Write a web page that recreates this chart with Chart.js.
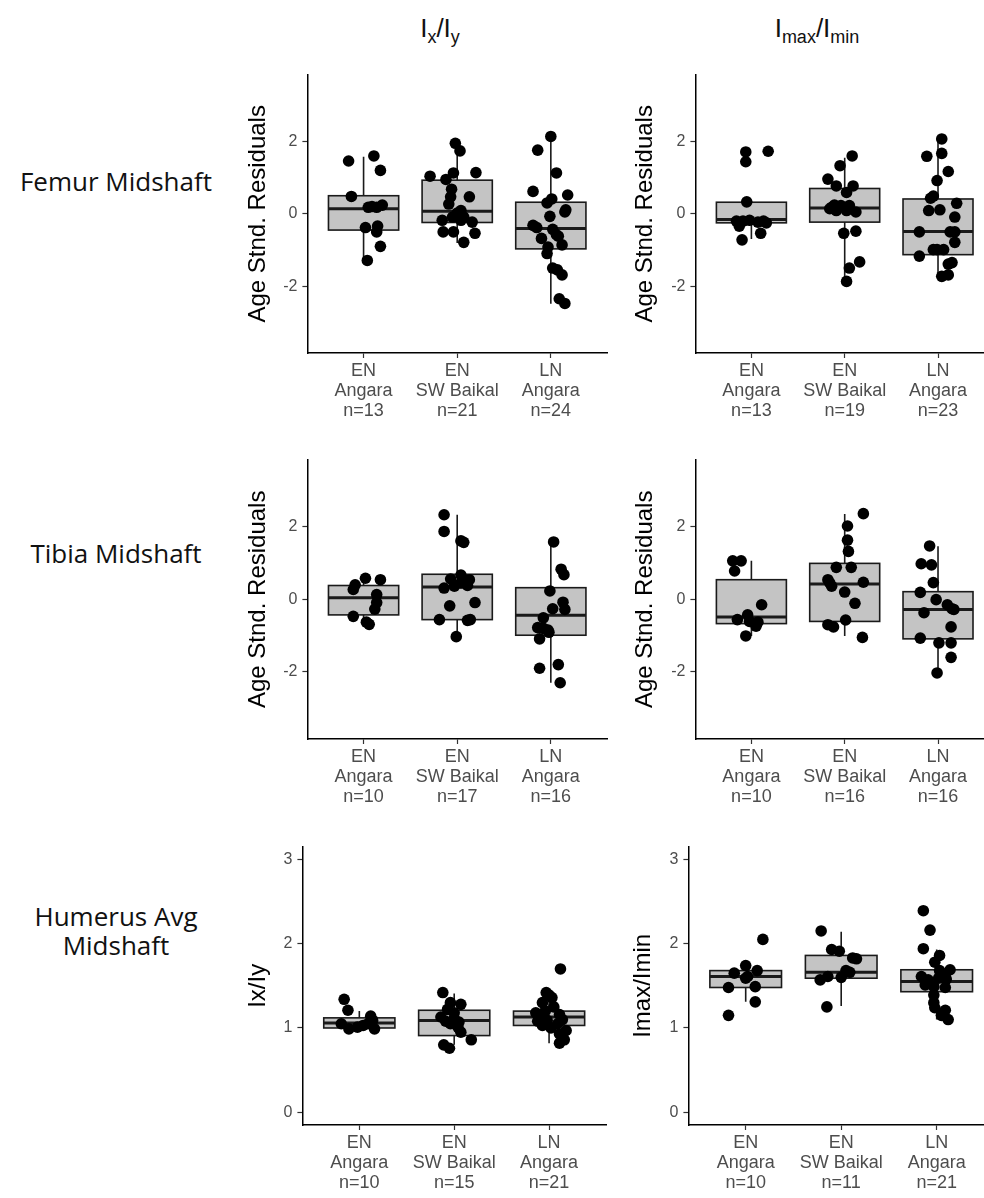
<!DOCTYPE html>
<html>
<head>
<meta charset="utf-8">
<script src="https://cdn.jsdelivr.net/npm/chart.js@4.4.0/dist/chart.umd.min.js"></script>
<style>
  body { margin: 0; background: #fff; width: 984px; height: 1198px; overflow: hidden; position: relative; font-family: "Liberation Sans", Arial, sans-serif; }
  canvas { position: absolute; }
  .rowlab { position: absolute; left: 0; width: 232px; text-align: center; font-family: "Open Sans", sans-serif; font-size: 26px; line-height: 29px; color: #111; }
  .coltitle { position: absolute; width: 240px; text-align: center; font-size: 26px; color: #111; }
  .coltitle sub { font-size: 18px; vertical-align: -6px; }
</style>
</head>
<body>
<div class="coltitle" style="left:320px; top:13px">I<sub>x</sub>/I<sub>y</sub></div>
<div class="coltitle" style="left:697px; top:13px">I<sub>max</sub>/I<sub>min</sub></div>
<div class="rowlab" style="top:167px">Femur Midshaft</div>
<div class="rowlab" style="top:539px">Tibia Midshaft</div>
<div class="rowlab" style="top:902px">Humerus Avg<br>Midshaft</div>

<canvas id="femur-ix"></canvas>
<canvas id="femur-imax"></canvas>
<canvas id="tibia-ix"></canvas>
<canvas id="tibia-imax"></canvas>
<canvas id="humerus-ix"></canvas>
<canvas id="humerus-imax"></canvas>

<script>
// groups on the x axis
const groupLabels = [['EN', 'Angara'], ['EN', 'SW Baikal'], ['LN', 'Angara']];
const residualTicks = [-2, 0, 2];
const ratioTicks = [0, 1, 2, 3];

// box stats per group: [lower whisker, Q1, median, Q3, upper whisker]
// Femur midshaft, Ix/Iy
const femurIxN = [13, 21, 24];
const femurIxBox = [[-1.31, -0.45, 0.14, 0.50, 1.58], [-0.81, -0.24, 0.07, 0.93, 1.71], [-2.49, -0.97, -0.41, 0.32, 2.16]];
const femurIxY = [
  [1.46, 1.60, 1.20, 0.48, 0.20, 0.24, 0.18, -0.38, -0.50, -0.34, -0.90, -1.29, 0.18],
  [1.95, 1.74, 1.04, 0.95, 1.13, 1.14, 0.68, 0.47, 0.47, 0.09, 0.02, -0.18, -0.09, -0.09, -0.23, -0.50, -0.50, -0.54, -0.79, -0.18, 0.27],
  [2.14, 1.76, 1.13, 0.62, 0.52, 0.41, 0.30, 0.11, 0.05, -0.07, -0.32, -0.38, -0.43, -0.58, -0.62, -0.68, -0.86, -0.92, -1.10, -1.50, -1.69, -2.35, -2.48, -1.55]
];
const femurIxJitter = [
  [-0.16, 0.11, 0.18, -0.13, 0.09, 0.20, 0.14, 0.02, 0.14, 0.15, 0.18, 0.04, 0.05],
  [-0.02, 0.03, -0.29, -0.12, -0.04, 0.20, -0.06, -0.07, 0.13, 0.04, 0.00, -0.16, -0.05, 0.07, 0.16, -0.15, -0.04, 0.19, 0.07, 0.04, -0.09],
  [0.00, -0.14, 0.06, -0.19, 0.18, 0.01, -0.04, 0.16, 0.15, -0.01, -0.19, -0.15, 0.02, 0.06, 0.08, -0.10, 0.12, -0.03, -0.04, 0.02, 0.12, 0.09, 0.15, 0.07]
];

// Femur midshaft, Imax/Imin
const femurImaxN = [13, 19, 23];
const femurImaxBox = [[-0.70, -0.25, -0.16, 0.32, 0.35], [-1.87, -0.23, 0.16, 0.70, 1.55], [-1.72, -1.13, -0.49, 0.41, 2.07]];
const femurImaxY = [
  [1.71, 1.44, 1.73, 0.33, -0.20, -0.20, -0.18, -0.34, -0.23, -0.25, -0.54, -0.72, -0.20],
  [1.60, 1.33, 0.96, 0.77, 0.77, 0.59, 0.14, 0.24, 0.23, 0.23, 0.05, 0.09, -0.54, -0.48, -1.50, -1.33, -1.87, 0.09, 0.18],
  [2.07, 1.59, 1.67, 1.17, 0.92, 0.43, 0.49, 0.09, 0.11, 0.29, -0.09, -0.50, -0.50, -0.50, -0.79, -1.17, -0.99, -0.99, -1.35, -1.39, -1.73, -1.69, -0.99]
];
const femurImaxJitter = [
  [-0.06, -0.06, 0.18, -0.05, -0.16, -0.09, -0.02, -0.13, 0.07, 0.16, 0.10, -0.10, 0.13],
  [0.08, -0.05, -0.18, -0.09, 0.09, 0.02, -0.16, -0.11, -0.04, 0.05, 0.12, 0.02, -0.01, 0.12, 0.05, 0.16, 0.02, -0.09, -0.14],
  [0.04, -0.12, 0.04, 0.11, -0.01, -0.08, -0.05, -0.10, 0.02, 0.20, 0.18, -0.20, 0.13, 0.18, 0.18, -0.20, -0.01, 0.06, 0.15, 0.11, 0.04, 0.11, -0.05]
];

// Tibia midshaft, Ix/Iy
const tibiaIxN = [10, 17, 16];
const tibiaIxBox = [[-0.69, -0.43, 0.04, 0.38, 0.58], [-1.03, -0.56, 0.34, 0.69, 2.33], [-2.30, -0.99, -0.44, 0.32, 1.62]];
const tibiaIxY = [
  [0.58, 0.54, 0.40, 0.27, 0.13, -0.09, -0.27, -0.47, -0.63, -0.69],
  [2.33, 1.87, 1.61, 1.57, 0.67, 0.56, 0.54, 0.31, 0.36, 0.38, -0.18, -0.09, -0.56, -0.58, -0.56, -1.03, 0.45],
  [1.58, 0.83, 0.68, 0.23, -0.26, -0.08, -0.28, -0.51, -0.78, -0.80, -0.91, -1.09, -1.90, -1.80, -2.30, -0.85]
];
const tibiaIxJitter = [
  [0.02, 0.18, -0.09, -0.11, 0.14, 0.14, 0.12, -0.11, 0.03, 0.06],
  [-0.14, -0.14, 0.04, 0.07, 0.04, -0.07, 0.13, -0.14, -0.03, 0.11, -0.08, 0.19, -0.19, 0.11, 0.14, -0.01, 0.04],
  [0.03, 0.11, 0.14, -0.01, 0.02, 0.13, 0.15, -0.08, -0.14, -0.08, -0.02, -0.12, -0.12, 0.08, 0.10, -0.03]
];

// Tibia midshaft, Imax/Imin
const tibiaImaxN = [10, 16, 16];
const tibiaImaxBox = [[-1.01, -0.67, -0.49, 0.54, 1.06], [-1.01, -0.61, 0.42, 0.99, 2.35], [-2.05, -1.09, -0.28, 0.21, 1.46]];
const tibiaImaxY = [
  [1.06, 1.06, 0.78, -0.15, -0.56, -0.43, -0.61, -0.63, -0.74, -1.01],
  [2.36, 2.02, 1.63, 1.32, 0.88, 0.88, 0.54, 0.36, 0.47, 0.20, -0.11, -0.70, -0.76, -0.57, -1.05, 0.45],
  [1.47, 0.98, 0.95, 0.46, 0.19, -0.01, -0.15, -0.28, -0.37, -0.76, -1.07, -1.20, -1.20, -1.60, -2.03, -0.26]
];
const tibiaImaxJitter = [
  [-0.20, -0.11, -0.18, 0.11, -0.15, -0.04, -0.02, 0.07, 0.05, -0.06],
  [0.20, 0.03, 0.03, 0.04, -0.09, 0.07, -0.18, -0.14, 0.20, 0.00, 0.11, -0.18, -0.12, 0.01, 0.19, -0.16],
  [-0.09, -0.18, -0.07, -0.05, -0.19, -0.02, 0.10, 0.17, -0.15, 0.14, -0.19, 0.01, 0.14, 0.14, -0.01, 0.15]
];

// Humerus avg midshaft, Ix/Iy
const humerusIxN = [10, 15, 21];
const humerusIxBox = [[0.99, 1.00, 1.06, 1.12, 1.20], [0.80, 0.91, 1.09, 1.21, 1.41], [0.82, 1.03, 1.13, 1.20, 1.45]];
const humerusIxY = [
  [1.34, 1.21, 1.05, 0.99, 1.01, 1.03, 1.14, 1.09, 0.99, 1.05],
  [1.42, 1.30, 1.28, 1.18, 1.13, 1.08, 1.05, 1.01, 0.95, 0.80, 0.76, 0.86, 1.11, 1.22, 1.07],
  [1.39, 1.36, 1.30, 1.18, 1.20, 1.13, 1.09, 1.16, 1.05, 1.03, 0.97, 0.93, 0.86, 0.82, 1.70, 1.42, 1.25, 1.15, 1.10, 1.08, 1.00]
];
const humerusIxJitter = [
  [-0.16, -0.12, -0.19, -0.11, -0.02, 0.04, 0.12, 0.14, 0.16, 0.09],
  [-0.12, -0.04, 0.07, 0.00, -0.14, -0.09, -0.04, 0.04, 0.07, -0.11, -0.05, 0.18, 0.00, -0.07, 0.05],
  [0.00, 0.03, -0.07, -0.14, -0.04, -0.11, -0.02, 0.11, 0.09, -0.07, 0.18, 0.11, 0.16, 0.11, 0.12, -0.03, 0.05, -0.09, 0.14, -0.12, 0.02]
];

// Humerus avg midshaft, Imax/Imin
const humerusImaxN = [10, 11, 21];
const humerusImaxBox = [[1.31, 1.48, 1.61, 1.68, 1.74], [1.26, 1.59, 1.66, 1.86, 2.14], [1.10, 1.43, 1.55, 1.69, 1.93]];
const humerusImaxY = [
  [2.05, 1.74, 1.65, 1.68, 1.59, 1.49, 1.48, 1.31, 1.15, 1.61],
  [2.15, 1.93, 1.91, 1.83, 1.82, 1.66, 1.60, 1.57, 1.61, 1.25, 1.68],
  [2.39, 2.16, 1.94, 1.86, 1.78, 1.69, 1.64, 1.61, 1.57, 1.59, 1.58, 1.51, 1.49, 1.48, 1.39, 1.30, 1.24, 1.21, 1.15, 1.10, 1.68]
];
const humerusImaxJitter = [
  [0.18, 0.00, -0.12, 0.12, 0.00, 0.10, -0.18, 0.10, -0.18, 0.02],
  [-0.21, -0.10, -0.02, 0.12, 0.16, 0.09, 0.00, -0.22, -0.14, -0.15, 0.05],
  [-0.14, -0.07, -0.14, 0.03, -0.02, 0.14, 0.09, -0.16, -0.09, 0.02, 0.10, -0.12, -0.03, 0.09, -0.03, -0.03, -0.02, 0.09, 0.05, 0.12, 0.03]
];

// draws the boxes and whiskers under the points
function boxPlugin(stats) {
  return {
    id: 'boxes',
    beforeDatasetsDraw(chart) {
      const { ctx, scales: { x, y } } = chart;
      ctx.save();
      stats.forEach((s, i) => {
        const xc = x.getPixelForValue(i);
        const x0 = x.getPixelForValue(i - 0.375);
        const x1 = x.getPixelForValue(i + 0.375);
        const [lo, q1, med, q3, hi] = s.map(v => y.getPixelForValue(v));
        ctx.strokeStyle = '#1a1a1a';
        ctx.lineWidth = 1.6;
        ctx.beginPath();
        ctx.moveTo(xc, lo); ctx.lineTo(xc, q1);
        ctx.moveTo(xc, q3); ctx.lineTo(xc, hi);
        ctx.stroke();
        ctx.fillStyle = '#c4c4c4';
        ctx.fillRect(x0, q3, x1 - x0, q1 - q3);
        ctx.strokeRect(x0, q3, x1 - x0, q1 - q3);
        ctx.lineWidth = 3;
        ctx.beginPath();
        ctx.moveTo(x0, med); ctx.lineTo(x1, med);
        ctx.stroke();
      });
      ctx.restore();
    }
  };
}

function makePanel(id, p) {
  const titleSize = 24;
  const yAxisW = p.titleGap + 4 + titleSize * 1.2 / 2;
  const padTop = 8, xAxisH = 75;
  const el = document.getElementById(id);
  el.width = yAxisW + p.width + 8;
  el.height = padTop + p.height + xAxisH;
  el.style.left = (p.left - yAxisW) + 'px';
  el.style.top = (p.top - padTop) + 'px';

  const points = [];
  p.ys.forEach((g, gi) => g.forEach((v, k) => points.push({ x: gi + p.jitter[gi][k], y: v })));

  new Chart(el.getContext('2d'), {
    type: 'scatter',
    data: {
      datasets: [{
        data: points,
        pointRadius: 5.8,
        pointHoverRadius: 5.8,
        backgroundColor: '#000',
        borderColor: '#000',
        borderWidth: 0
      }]
    },
    options: {
      responsive: false,
      animation: false,
      layout: { padding: { top: padTop, right: 8, left: 0, bottom: 0 } },
      plugins: { legend: { display: false }, tooltip: { enabled: false } },
      scales: {
        x: {
          type: 'linear',
          min: -0.6,
          max: 2.6,
          afterBuildTicks: s => { s.ticks = [0, 1, 2].map(v => ({ value: v })); },
          afterFit: s => { s.height = xAxisH; },
          ticks: {
            callback: v => [groupLabels[v][0], groupLabels[v][1], 'n=' + p.n[v]],
            color: '#4d4d4d',
            font: { family: '"Liberation Sans", Arial, sans-serif', size: 18, lineHeight: 1.12 },
            padding: 3,
            maxRotation: 0,
            autoSkip: false
          },
          grid: { drawOnChartArea: false, drawTicks: true, tickLength: 5, tickColor: '#333', tickWidth: 1.2 },
          border: { color: '#000', width: 1.5 }
        },
        y: {
          min: p.yMin,
          max: p.yMax,
          afterBuildTicks: s => { s.ticks = p.yTicks.map(v => ({ value: v })); },
          afterFit: s => { s.width = yAxisW; },
          ticks: {
            color: '#4d4d4d',
            font: { family: '"Liberation Sans", Arial, sans-serif', size: 16 },
            padding: 5
          },
          title: {
            display: true,
            text: p.yTitle,
            color: '#000',
            font: { family: '"Liberation Sans", Arial, sans-serif', size: titleSize, lineHeight: 1.2 },
            padding: { top: 4, bottom: 4 }
          },
          grid: { drawOnChartArea: false, drawTicks: true, tickLength: 5, tickColor: '#333', tickWidth: 1.2 },
          border: { color: '#000', width: 1.5 }
        }
      }
    },
    plugins: [boxPlugin(p.box)]
  });
}

const residualTitle = 'Age Stnd. Residuals';
makePanel('femur-ix', { left: 307, top: 68, width: 300, height: 285, titleGap: 49, yTitle: residualTitle, yMin: -3.85, yMax: 3.85, yTicks: residualTicks, n: femurIxN, box: femurIxBox, ys: femurIxY, jitter: femurIxJitter });
makePanel('femur-imax', { left: 695, top: 68, width: 299, height: 285, titleGap: 50, yTitle: residualTitle, yMin: -3.85, yMax: 3.85, yTicks: residualTicks, n: femurImaxN, box: femurImaxBox, ys: femurImaxY, jitter: femurImaxJitter });
makePanel('tibia-ix', { left: 307, top: 453, width: 300, height: 286, titleGap: 49, yTitle: residualTitle, yMin: -3.85, yMax: 3.85, yTicks: residualTicks, n: tibiaIxN, box: tibiaIxBox, ys: tibiaIxY, jitter: tibiaIxJitter });
makePanel('tibia-imax', { left: 695, top: 453, width: 299, height: 286, titleGap: 50, yTitle: residualTitle, yMin: -3.85, yMax: 3.85, yTicks: residualTicks, n: tibiaImaxN, box: tibiaImaxBox, ys: tibiaImaxY, jitter: tibiaImaxJitter });
makePanel('humerus-ix', { left: 302, top: 840, width: 304, height: 285, titleGap: 44, yTitle: 'Ix/Iy', yMin: -0.15, yMax: 3.15, yTicks: ratioTicks, n: humerusIxN, box: humerusIxBox, ys: humerusIxY, jitter: humerusIxJitter });
makePanel('humerus-imax', { left: 688, top: 840, width: 306, height: 285, titleGap: 45, yTitle: 'Imax/Imin', yMin: -0.15, yMax: 3.15, yTicks: ratioTicks, n: humerusImaxN, box: humerusImaxBox, ys: humerusImaxY, jitter: humerusImaxJitter });
</script>
</body>
</html>
